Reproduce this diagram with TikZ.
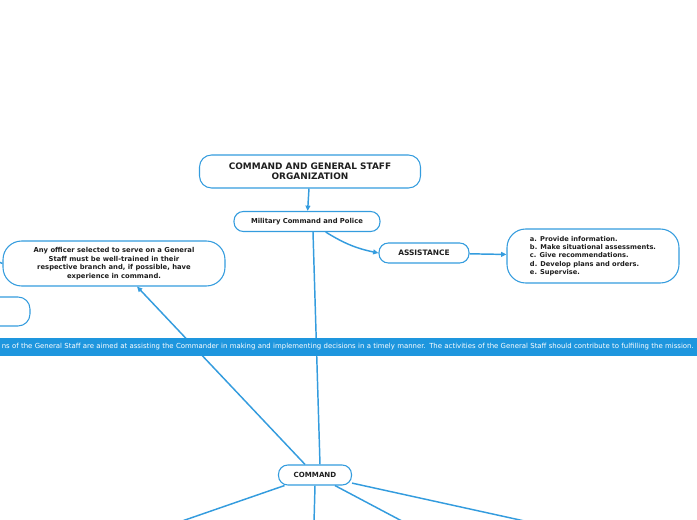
\documentclass[tikz,border=0pt]{standalone}
\usepackage{fontspec}
\setmainfont{DejaVu Sans}
\usepackage{tikz}
\usetikzlibrary{arrows.meta, backgrounds, calc}
\definecolor{mapblue}{RGB}{52, 156, 222}
\definecolor{bannerblue}{RGB}{30, 150, 222}
\definecolor{inktext}{RGB}{30, 30, 30}

\begin{document}
\begin{tikzpicture}[
    x=0.75pt, y=-0.75pt,
    topic/.style={draw=mapblue, fill=white, line width=0.8pt, rounded corners=9pt, align=center, text=inktext, inner sep=1pt, font=\bfseries\fontsize{5.1}{6.5}\selectfont},
    maintopic/.style={topic, font=\bfseries\fontsize{6.7}{7.8}\selectfont},
    listtopic/.style={topic, align=left, font=\bfseries\fontsize{5}{6.3}\selectfont},
    banner/.style={fill=bannerblue, text=white, inner xsep=2.25pt, inner ysep=0pt, minimum height=13.5pt, font=\fontsize{5.2}{6}\selectfont},
    link/.style={draw=mapblue, line width=1.1pt},
    arr/.style={link, -{Triangle[length=4pt, width=3.6pt]}}
]
    \useasboundingbox (0,0) rectangle (697,520);
    \clip (0,0) rectangle (697,520);

    % topics
    \node[maintopic, minimum width=165.75pt, minimum height=24.75pt] (org) at (310,171.5) {COMMAND AND GENERAL STAFF\\ORGANIZATION};
    \node[topic, minimum width=109.5pt, minimum height=15pt, rounded corners=7pt] (mil) at (307,221.5) {Military Command and Police};
    \node[topic, minimum width=166.5pt, minimum height=33.75pt, rounded corners=14pt] (officer) at (114,263.5) {Any officer selected to serve on a General\\Staff must be well-trained in their\\respective branch and, if possible, have\\experience in command.};
    \node[topic, minimum width=97.5pt, minimum height=21.75pt] (hidden) at (-35,311.5) {};
    \node[topic, minimum width=67.5pt, minimum height=15pt, rounded corners=7pt, font=\bfseries\fontsize{5.6}{6.5}\selectfont] (assist) at (424,253) {ASSISTANCE};
    \node[listtopic, minimum width=129pt, minimum height=40.5pt, rounded corners=14pt] (tasks) at (593,256) {a. Provide information.\\b. Make situational assessments.\\c. Give recommendations.\\d. Develop plans and orders.\\e. Supervise.};
    \node[topic, minimum width=54.75pt, minimum height=15pt, rounded corners=7pt, font=\bfseries\fontsize{5.3}{6.5}\selectfont] (cmd) at (315,475) {COMMAND};

    \coordinate (offleft) at (-30,250);
    \coordinate (sub1) at (69.5,560);
    \coordinate (sub2) at (313,560);
    \coordinate (sub3) at (475.5,560);
    \coordinate (sub4) at (702,560);

    % connectors
    \begin{scope}[on background layer]
        \draw[arr] (org) -- (mil);
        \draw[arr] ([xshift=14pt]mil.south) to[bend right=10] (assist.west);
        \draw[arr] (assist) -- (tasks);
        \draw[link] (officer.west) -- (offleft);
        \draw[link] ([xshift=3.75pt]cmd.north) -- ([xshift=4.5pt]mil.south);
        \draw[arr] (cmd) -- ([xshift=17.25pt]officer.south);
        \draw[link] (cmd) -- (sub1);
        \draw[link] (cmd.south) -- (sub2);
        \draw[link] (cmd) -- (sub3);
        \draw[link] (cmd) -- (sub4);
    \end{scope}

    \node[banner, anchor=east, text width=720pt, align=right] (mission) at (697,347) {ns of the General Staff are aimed at assisting the Commander in making and implementing decisions in a timely manner. The activities of the General Staff should contribute to fulfilling the mission.};
\end{tikzpicture}
\end{document}
